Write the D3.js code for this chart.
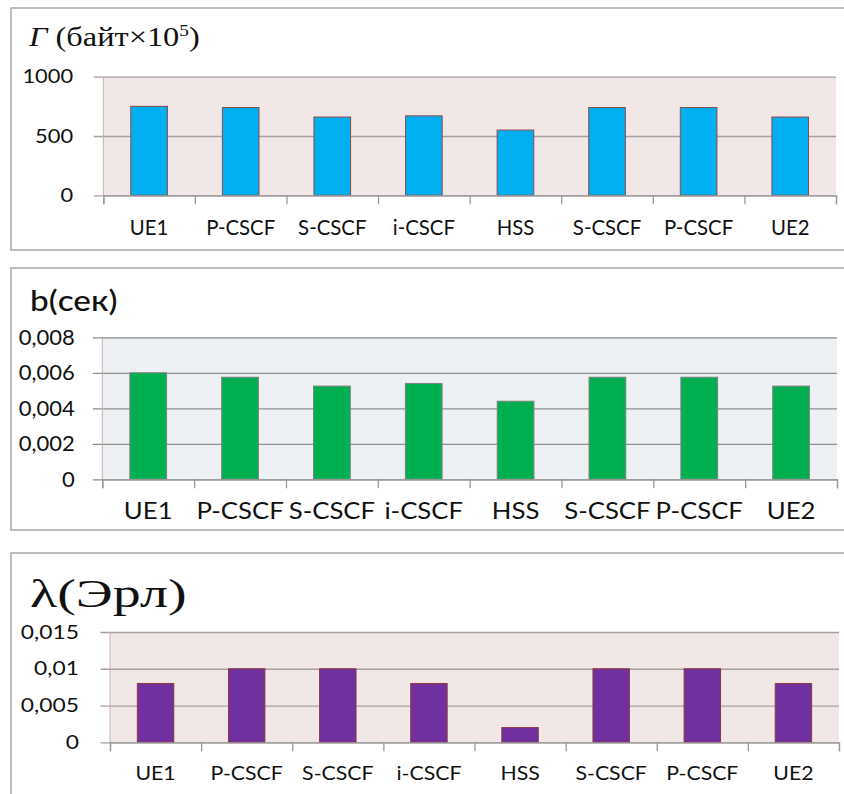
<!DOCTYPE html>
<html>
<head>
<meta charset="utf-8">
<script src="https://cdn.jsdelivr.net/npm/d3@7"></script>
<style>
  html, body { margin: 0; padding: 0; background: #fff; }
  svg { display: block; }
</style>
</head>
<body>
<svg id="chart" width="844" height="794"></svg>
<script>
// Network nodes along the call path
const categories = ["UE1", "P-CSCF", "S-CSCF", "i-CSCF", "HSS", "S-CSCF", "P-CSCF", "UE2"];

// Traffic volume, bytes ×10^5
const volumeValues = [750, 740, 660, 670, 550, 740, 740, 660];
const volumeTicks = [0, 500, 1000];

// Processing time, seconds
const delayValues = [0.006, 0.00575, 0.00525, 0.0054, 0.0044, 0.00575, 0.00575, 0.00525];
const delayTicks = [0, 0.002, 0.004, 0.006, 0.008];
const delayTickLabels = ["0", "0,002", "0,004", "0,006", "0,008"];

// Load, Erlang
const loadValues = [0.008, 0.01, 0.01, 0.008, 0.002, 0.01, 0.01, 0.008];
const loadTicks = [0, 0.005, 0.01, 0.015];
const loadTickLabels = ["0", "0,005", "0,01", "0,015"];

const svg = d3.select("#chart");
const sans = "Lato, 'Open Sans', sans-serif";
const serif = "'Liberation Serif', 'DejaVu Serif', serif";

const panels = [
  {
    box: { x: 11, y: 8, h: 242 },
    plot: { x0: 103.3, x1: 836, yTop: 76.7, yBot: 195.3 },
    max: 1000, values: volumeValues, ticks: volumeTicks,
    tickLabels: volumeTicks.map(String),
    fill: "#00B0F0", stroke: "#8C4A4A", bg: "#F2E7E7", grid: "#A8A0A0",
    yFont: 19, yScaleX: 1.15, xFont: 21, xScaleX: 0.97, labelY: 235
  },
  {
    box: { x: 11, y: 268, h: 262 },
    plot: { x0: 102.3, x1: 837, yTop: 337.3, yBot: 479.3 },
    max: 0.008, values: delayValues, ticks: delayTicks,
    tickLabels: delayTickLabels,
    fill: "#00B050", stroke: "#808080", bg: "#EEF1F4", grid: "#8E8E8E",
    yFont: 22, yScaleX: 1.0, xFont: 23, xScaleX: 1.12, labelY: 519
  },
  {
    box: { x: 11, y: 553, h: 260 },
    plot: { x0: 110, x1: 839, yTop: 632, yBot: 742.3 },
    max: 0.015, values: loadValues, ticks: loadTicks,
    tickLabels: loadTickLabels,
    fill: "#7030A0", stroke: "#8C3A3A", bg: "#F2E7E7", grid: "#A8A0A0",
    yFont: 19, yScaleX: 1.2, xFont: 19, xScaleX: 1.12, labelY: 780
  }
];

panels.forEach(p => {
  const g = svg.append("g");

  // Chart frame
  g.append("rect")
    .attr("x", p.box.x).attr("y", p.box.y)
    .attr("width", 850).attr("height", p.box.h)
    .attr("fill", "#fff").attr("stroke", "#A9A9A9").attr("stroke-width", 1.5);

  const x = d3.scaleBand().domain(d3.range(categories.length))
    .range([p.plot.x0, p.plot.x1]).paddingInner(0.6).paddingOuter(0.3);
  const xEdges = d3.scaleLinear().domain([0, categories.length]).range([p.plot.x0, p.plot.x1]);
  const y = d3.scaleLinear().domain([0, p.max]).range([p.plot.yBot, p.plot.yTop]);

  // Plot area background
  g.append("rect")
    .attr("x", p.plot.x0).attr("y", y(p.max))
    .attr("width", p.plot.x1 - p.plot.x0).attr("height", y(0) - y(p.max))
    .attr("fill", p.bg);

  // Value axis with gridlines running across the plot
  const gridStart = p.plot.x0 - 9.5;
  const yAxis = g.append("g")
    .attr("transform", `translate(${gridStart},0)`)
    .call(d3.axisLeft(y).tickValues(p.ticks)
      .tickSize(-(p.plot.x1 - gridStart))
      .tickPadding(18)
      .tickFormat((d, i) => p.tickLabels[i]));
  yAxis.select(".domain").remove();
  yAxis.selectAll(".tick line").attr("stroke", p.grid).attr("stroke-width", 1.3);
  yAxis.selectAll(".tick text")
    .attr("fill", "#111")
    .style("font-family", sans)
    .style("font-size", p.yFont + "px")
    .attr("transform", `scale(${p.yScaleX},1)`);

  // Left edge of the plot area
  g.append("line")
    .attr("x1", p.plot.x0).attr("x2", p.plot.x0)
    .attr("y1", y(p.max)).attr("y2", y(0))
    .attr("stroke", "#BFB3B3").attr("stroke-width", 1);

  // Bars
  g.selectAll("rect.bar").data(p.values).enter().append("rect")
    .attr("class", "bar")
    .attr("x", (d, i) => x(i))
    .attr("width", x.bandwidth())
    .attr("y", d => y(d))
    .attr("height", d => y(0) - y(d))
    .attr("fill", p.fill)
    .attr("stroke", p.stroke).attr("stroke-width", 1);

  // Category axis: boundary ticks
  const xAxis = g.append("g")
    .attr("transform", `translate(0,${y(0)})`)
    .call(d3.axisBottom(xEdges).tickValues(d3.range(categories.length + 1))
      .tickSize(9).tickFormat(""));
  xAxis.select(".domain").attr("stroke", "#9A9A9A").attr("stroke-width", 1.3);
  xAxis.selectAll(".tick line").attr("stroke", "#9A9A9A").attr("stroke-width", 1.3);

  // Category labels
  g.selectAll("text.cat").data(categories).enter().append("text")
    .attr("class", "cat")
    .attr("transform", (d, i) => `translate(${x(i) + x.bandwidth() / 2},${p.labelY}) scale(${p.xScaleX},1)`)
    .attr("text-anchor", "middle")
    .attr("fill", "#111")
    .style("font-family", sans)
    .style("font-size", p.xFont + "px")
    .text(d => d);
});

// Panel titles
const t1 = svg.append("text").attr("transform", "translate(29,46) scale(1.2,1)")
  .style("font-family", serif).style("font-size", "27px").attr("fill", "#111");
t1.append("tspan").style("font-style", "italic").text("Г");
t1.append("tspan").text(" (байт×10");
t1.append("tspan").attr("dy", -10).style("font-size", "16px").text("5");
t1.append("tspan").attr("dy", 10).text(")");

svg.append("text").attr("transform", "translate(30,311) scale(1.15,1)")
  .style("font-family", sans).style("font-size", "29px").style("font-weight", 500)
  .attr("fill", "#111").text("b(сек)");

svg.append("text").attr("transform", "translate(30,607) scale(1.4,1)")
  .style("font-family", serif).style("font-size", "40px")
  .attr("fill", "#111").text("λ(Эрл)");
</script>
</body>
</html>
